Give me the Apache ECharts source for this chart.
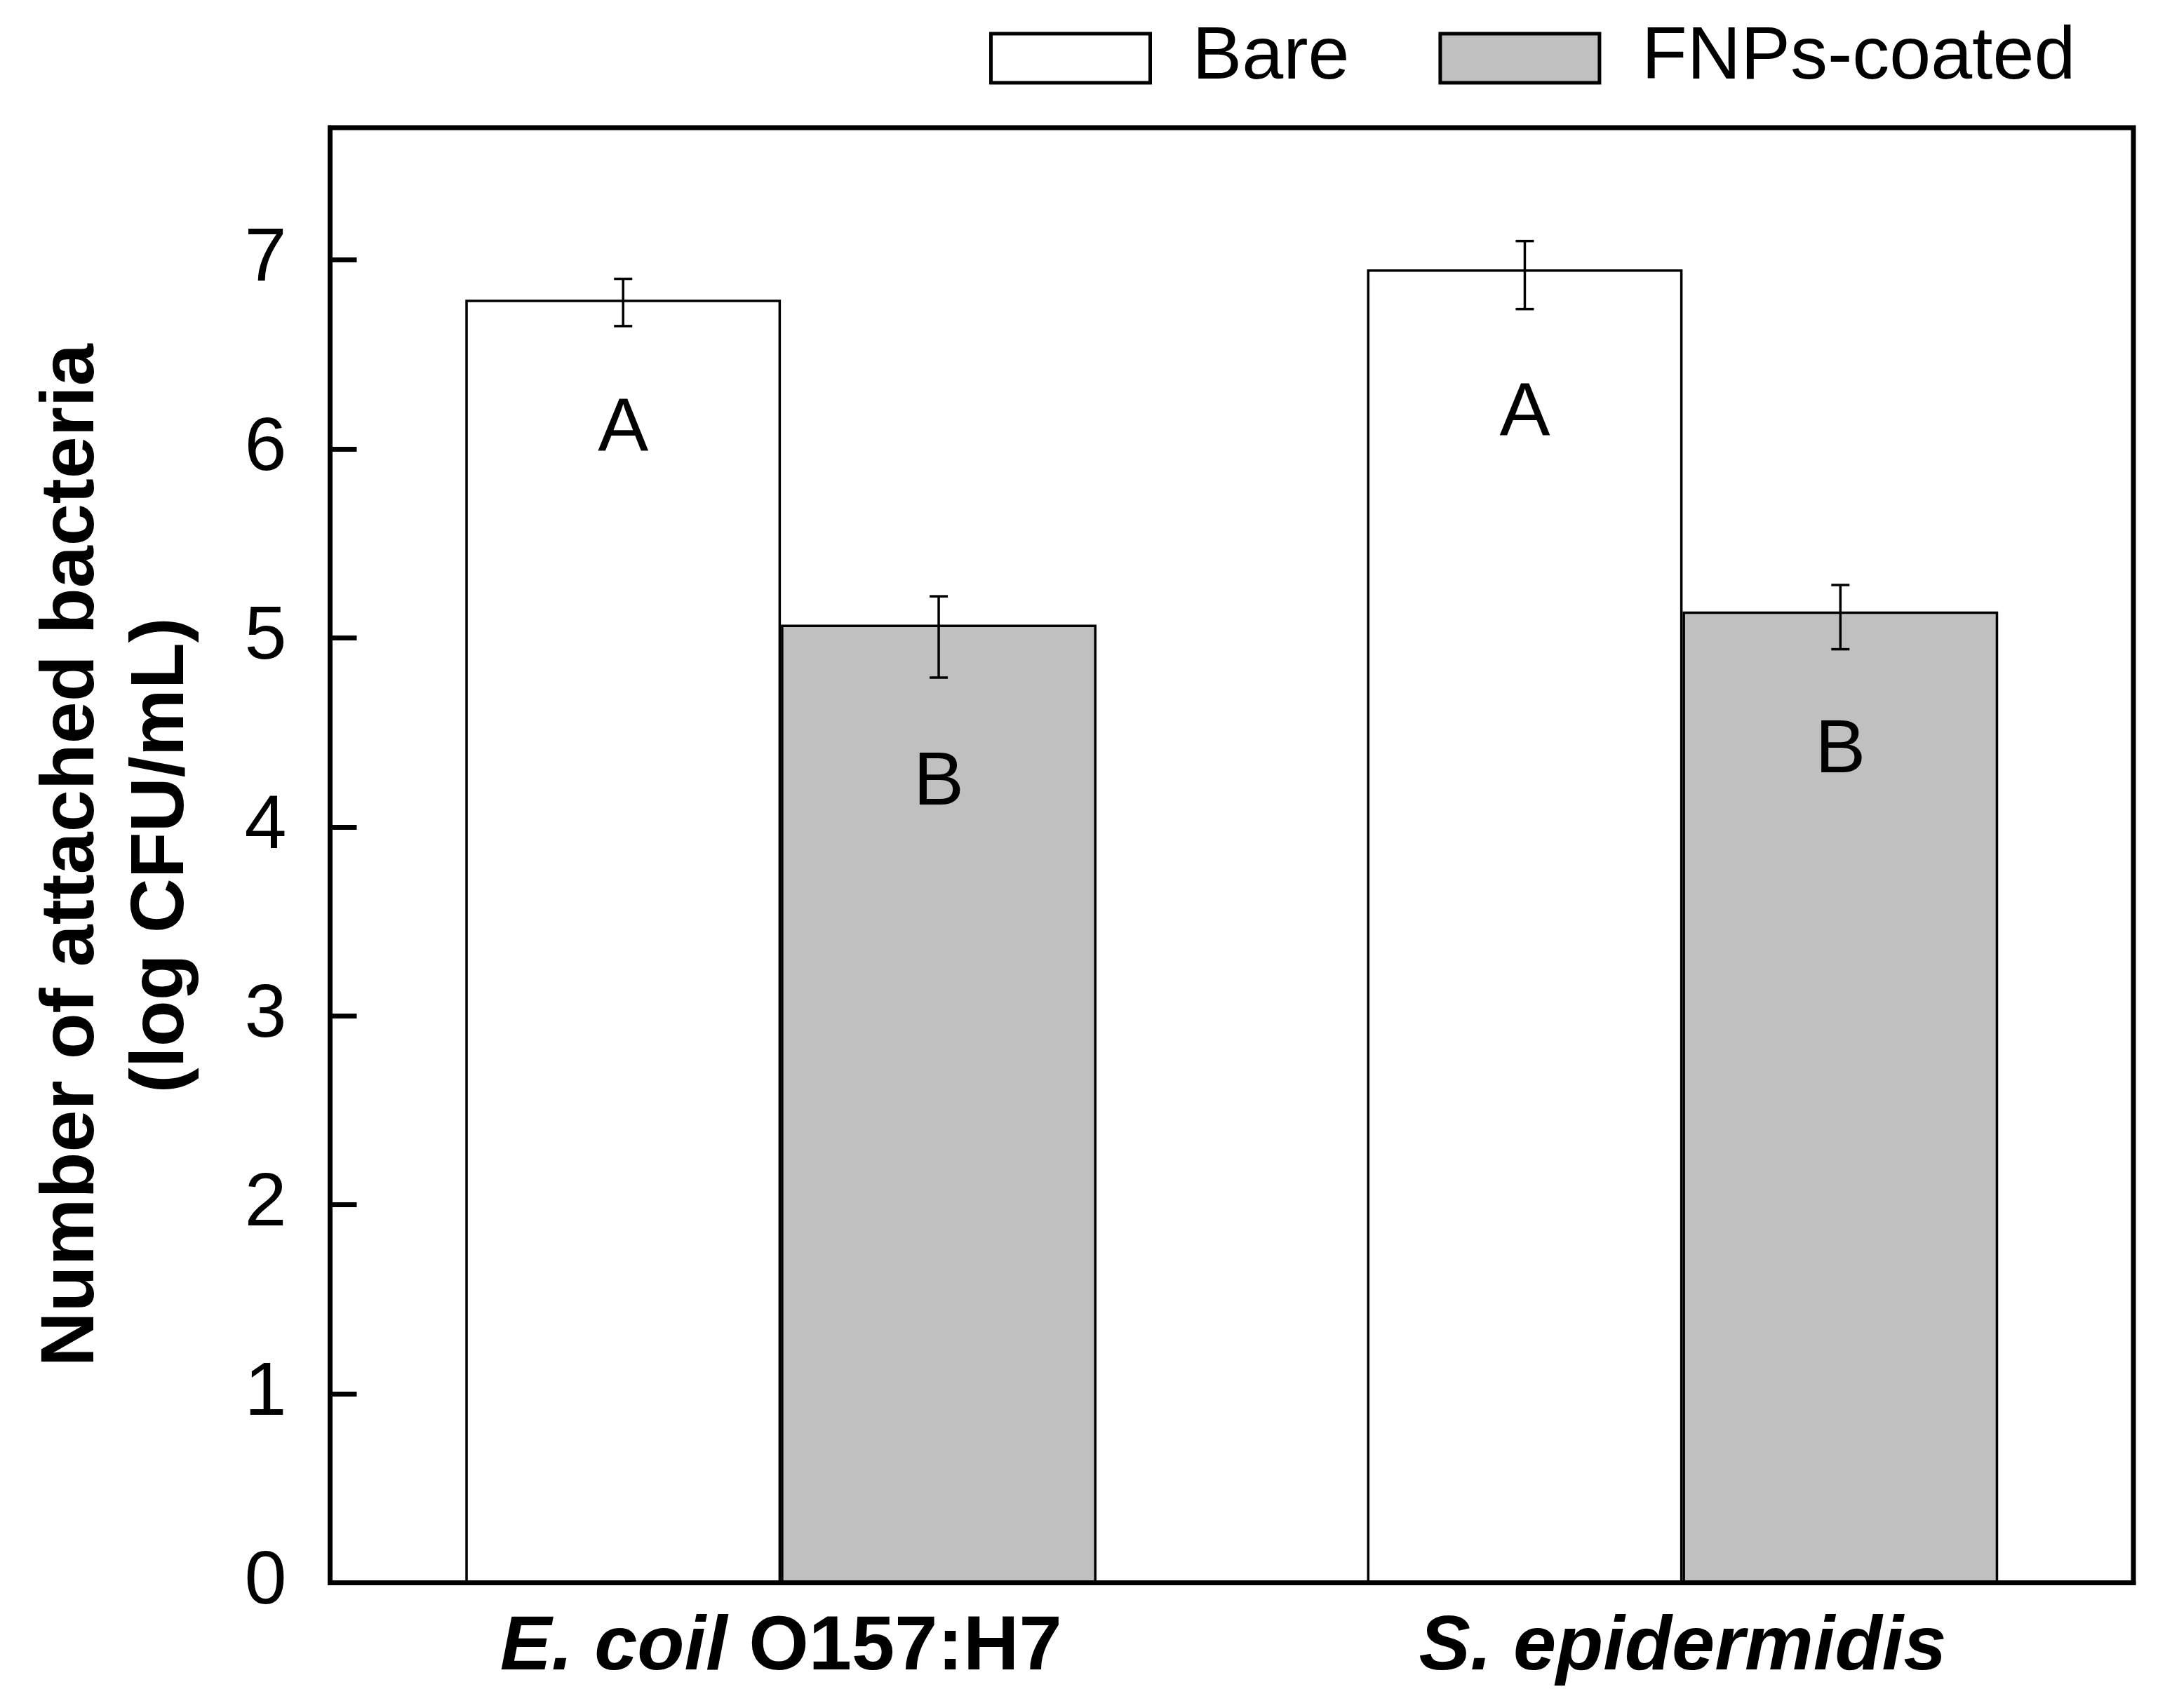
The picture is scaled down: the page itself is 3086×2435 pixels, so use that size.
<!DOCTYPE html>
<html>
<head>
<meta charset="utf-8">
<script src="https://cdn.jsdelivr.net/npm/echarts@6/dist/echarts.min.js"></script>
<style>
html,body{margin:0;padding:0;background:#fff;}
#c{width:3086px;height:2435px;}
</style>
</head>
<body>
<div id="c"></div>
<script>
const categories = ['E. coil O157:H7', 'S. epidermidis'];
const seriesNames = ['Bare', 'FNPs-coated'];
const bareValues = [6.79, 6.95];
const coatedValues = [5.07, 5.14];
const bareErrHigh = [6.90, 7.10];
const bareErrLow = [6.65, 6.74];
const coatedErrHigh = [5.22, 5.28];
const coatedErrLow = [4.79, 4.94];
const bareLetters = ['A', 'A'];
const bareLetterY = [6.10, 6.18];
const coatedLetters = ['B', 'B'];
const coatedLetterY = [4.23, 4.40];
const yMin = 0, yMax = 7.7, yInterval = 1;

const FONT = '"Liberation Sans", Arial, sans-serif';
const chart = echarts.init(document.getElementById('c'), null, {renderer: 'canvas'});

const errData = [];
const letterData = [];
const letterText = [];
for (let i = 0; i < categories.length; i++) {
  errData.push([i, bareErrLow[i], bareErrHigh[i], -1]);
  errData.push([i, coatedErrLow[i], coatedErrHigh[i], 1]);
  letterData.push([i, bareLetterY[i], -1]);
  letterText.push(bareLetters[i]);
  letterData.push([i, coatedLetterY[i], 1]);
  letterText.push(coatedLetters[i]);
}
const BAR_FRAC = 0.35;

chart.setOption({
  animation: false,
  backgroundColor: '#fff',
  textStyle: {fontFamily: FONT},
  legend: {
    data: seriesNames,
    left: 1410,
    top: 30,
    padding: 0,
    icon: 'rect',
    itemWidth: 227,
    itemHeight: 70,
    itemGap: 127,
    itemStyle: {borderColor: '#000', borderWidth: 5},
    textStyle: {fontSize: 106, color: '#000', fontFamily: FONT, padding: [0, 0, 0, 55]}
  },
  grid: {
    left: 470.5, right: 45, top: 182, bottom: 178.5,
    show: true, borderColor: '#000', borderWidth: 7, backgroundColor: 'transparent'
  },
  xAxis: {
    type: 'category',
    data: categories,
    z: 10,
    axisLine: {show: true, lineStyle: {color: '#000', width: 7}},
    axisTick: {show: false},
    axisLabel: {
      margin: 38,
      formatter: function (v) {
        if (v === 'E. coil O157:H7') return '{i|E. coil }{b|O157:H7}';
        return '{i|' + v + '}';
      },
      rich: {
        i: {fontSize: 110, fontWeight: 'bold', fontStyle: 'italic', color: '#000', fontFamily: FONT},
        b: {fontSize: 110, fontWeight: 'bold', color: '#000', fontFamily: FONT}
      }
    }
  },
  yAxis: {
    type: 'value',
    min: yMin, max: yMax, interval: yInterval,
    z: 10,
    name: 'Number of attached bacteria\n(log CFU/mL)',
    nameLocation: 'middle',
    nameRotate: 90,
    nameGap: 175,
    nameTextStyle: {fontSize: 108, fontWeight: 'bold', color: '#000', lineHeight: 128, fontFamily: FONT},
    axisLine: {show: true, lineStyle: {color: '#000', width: 7}},
    axisTick: {show: true, inside: true, length: 38, lineStyle: {color: '#000', width: 7}},
    splitLine: {show: false},
    axisLabel: {
      margin: 62, fontSize: 108, color: '#000', fontFamily: FONT, showMaxLabel: false,
      formatter: function (v) { return Number.isInteger(v) ? String(v) : ''; }
    }
  },
  series: [
    {
      name: seriesNames[0], type: 'bar', data: bareValues,
      barGap: '0%', barCategoryGap: '30%',
      itemStyle: {color: '#ffffff', borderColor: '#000', borderWidth: 3.5}
    },
    {
      name: seriesNames[1], type: 'bar', data: coatedValues,
      barGap: '0%', barCategoryGap: '30%',
      itemStyle: {color: '#c0c0c0', borderColor: '#000', borderWidth: 3.5}
    },
    {
      type: 'custom', z: 5,
      data: errData,
      encode: {x: 0, y: [1, 2]},
      renderItem: function (params, api) {
        const cat = api.value(0);
        const lo = api.coord([cat, api.value(1)]);
        const hi = api.coord([cat, api.value(2)]);
        const band = api.size([1, 0])[0];
        const x = lo[0] + api.value(3) * band * BAR_FRAC / 2;
        const cap = 13;
        const st = {stroke: '#000', lineWidth: 3.5};
        return {
          type: 'group',
          children: [
            {type: 'line', shape: {x1: x, y1: lo[1], x2: x, y2: hi[1]}, style: st},
            {type: 'line', shape: {x1: x - cap, y1: lo[1], x2: x + cap, y2: lo[1]}, style: st},
            {type: 'line', shape: {x1: x - cap, y1: hi[1], x2: x + cap, y2: hi[1]}, style: st}
          ]
        };
      }
    },
    {
      type: 'custom', z: 5,
      data: letterData,
      encode: {x: 0, y: 1},
      renderItem: function (params, api) {
        const cat = api.value(0);
        const p = api.coord([cat, api.value(1)]);
        const band = api.size([1, 0])[0];
        const x = p[0] + api.value(2) * band * BAR_FRAC / 2;
        return {
          type: 'text', x: x, y: p[1],
          style: {
            text: letterText[params.dataIndex],
            font: '108px ' + FONT,
            fill: '#000',
            textAlign: 'center',
            textVerticalAlign: 'middle'
          }
        };
      }
    }
  ]
});
</script>
</body>
</html>
